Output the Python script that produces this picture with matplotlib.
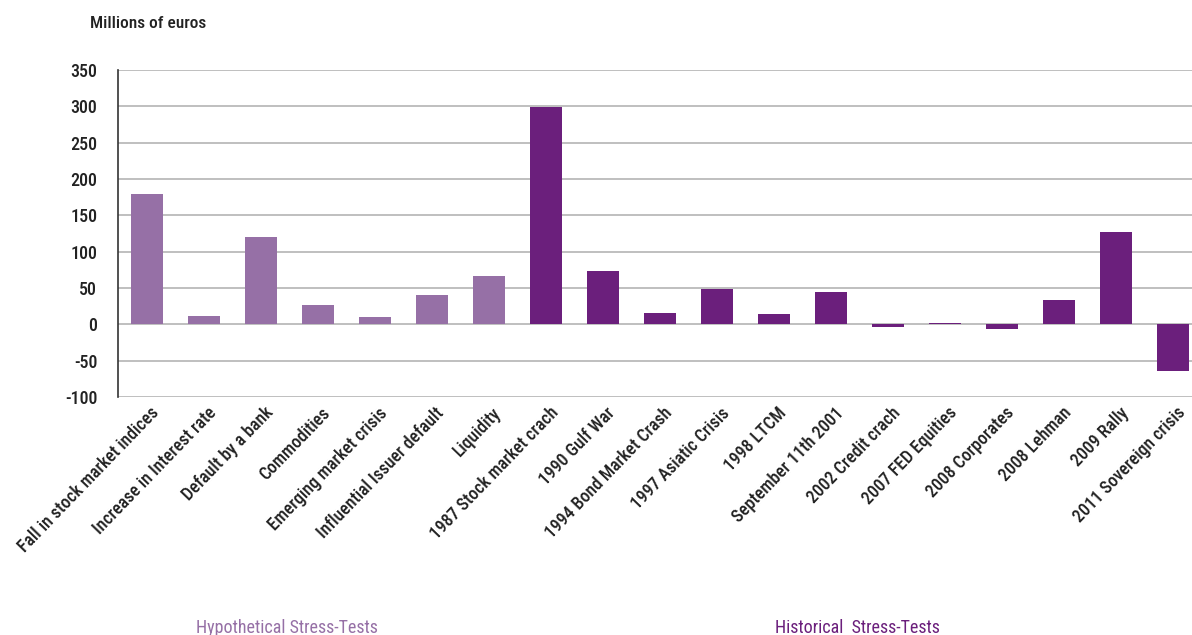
import numpy as np
import matplotlib.pyplot as plt
from matplotlib.transforms import ScaledTranslation

#%% fonts
plt.rcParams['font.family'] = ['Roboto Condensed', 'DejaVu Sans']
plt.rcParams['font.weight'] = 'medium'
plt.rcParams['axes.unicode_minus'] = False

#%% data (millions of euros)
hypo_labels = ['Fall in stock market indices', 'Increase in Interest rate', 'Default by a bank',
               'Commodities', 'Emerging market crisis', 'Influential Issuer default', 'Liquidity']
hypo_values = [180, 11, 120, 26, 10, 40, 66]

hist_labels = ['1987 Stock market crach', '1990 Gulf War', '1994 Bond Market Crash',
               '1997 Asiatic Crisis', '1998 LTCM', 'September 11th 2001', '2002 Credit crach',
               '2007 FED Equities', '2008 Corporates', '2008 Lehman', '2009 Rally',
               '2011 Sovereign crisis']
hist_values = [299, 73, 16, 48, 14, 44, -4, 2, -7, 34, 127, -64]

c_hypo = '#9670a6'
c_hist = '#6b1f7c'

#%% plot
fig = plt.figure(figsize=(11.92, 6.35), dpi=100)
ax = fig.add_axes([118/1192, 1 - 397/635, 1 - 118/1192, (397 - 70)/635])

x_hypo = np.arange(len(hypo_values))
x_hist = np.arange(len(hist_values)) + len(hypo_values)
ax.bar(x_hypo, hypo_values, width=0.56, color=c_hypo, zorder=3)
ax.bar(x_hist, hist_values, width=0.56, color=c_hist, zorder=3)

ax.set_xlim(-0.51, 18.33)
ax.set_ylim(-100, 350)
ax.set_yticks(np.arange(-100, 351, 50))
ax.yaxis.grid(True, color='#b4b4b4', linewidth=1.2, zorder=0)
ax.tick_params(axis='y', length=0, pad=15, labelsize=13, labelcolor='#222222')
for s in ['top', 'right', 'bottom']:
    ax.spines[s].set_visible(False)
ax.spines['left'].set_color('#333333')
ax.spines['left'].set_linewidth(1.2)

ax.set_xticks(np.concatenate([x_hypo, x_hist]))
ax.set_xticklabels(hypo_labels + hist_labels, rotation=46, ha='right',
                   rotation_mode='anchor', fontsize=12.8, color='#222222')
ax.tick_params(axis='x', length=0, pad=5)
# nudge the rotated labels so their ends sit just right of each bar
shift = ScaledTranslation(3/100, 0, fig.dpi_scale_trans)
for lab in ax.get_xticklabels():
    lab.set_transform(lab.get_transform() + shift)

fig.text(90/1192, 1 - 23/635, 'Millions of euros', fontsize=12.5, color='#222222', va='center')
fig.text(287/1192, 1 - 619/635, 'Hypothetical Stress-Tests', fontsize=13,
         fontweight='normal', color=c_hypo, ha='center', va='top')
fig.text(857/1192, 1 - 619/635, 'Historical  Stress-Tests', fontsize=13,
         fontweight='normal', color=c_hist, ha='center', va='top')

fig.savefig('out.png', dpi=100)
